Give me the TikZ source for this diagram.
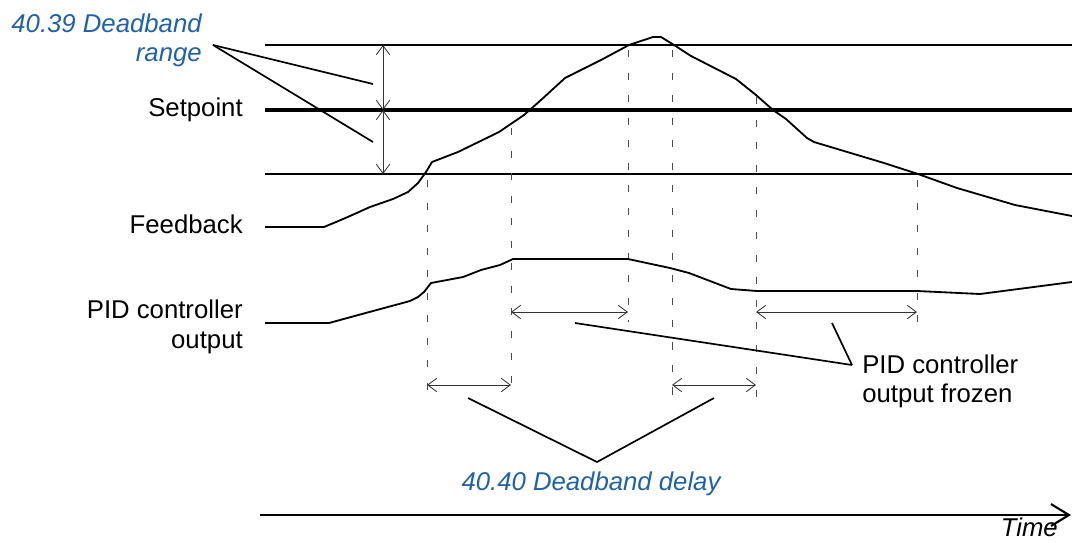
\documentclass[tikz,border=0pt]{standalone}
\usepackage{fontspec}
\setmainfont{Liberation Sans}
\usepackage{xcolor}
\usepackage{tikz}
\usetikzlibrary{arrows.meta,positioning,calc}

\definecolor{parblue}{RGB}{31,98,170}

\begin{document}
\begin{tikzpicture}[x=0.025cm, y=-0.025cm,
    every node/.style={font=\fontsize{18.3}{21}\selectfont, inner sep=0pt},
    parlabel/.style={text=parblue, font=\fontsize{18.3}{21}\selectfont\itshape},
    level/.style={line width=1.4pt},
    setline/.style={line width=2.8pt},
    signal/.style={line width=1.3pt, line join=round},
    leader/.style={line width=1.2pt},
    marker/.style={black!70, line width=0.7pt, dash pattern=on 5pt off 11pt},
    span/.style={black!80, line width=0.6pt, {Straight Barb[length=6.4pt,width=9.5pt]}-{Straight Barb[length=6.4pt,width=9.5pt]}}]
    \useasboundingbox (0,0) rectangle (1072,542);

    % labels (base = last line)
    \node[parlabel, align=right, anchor=base east] (range) at (202,61.7) {40.39 Deadband\\range};
    \node[anchor=base east] (setp) at (243,116) {Setpoint};
    \node[anchor=base east] (fb) at (243,233) {Feedback};
    \node[align=right, anchor=base east] (pid) at (243,348) {PID controller\\output};
    \node[align=left, anchor=base west] (frozen) at (862,402.7) {PID controller\\output frozen};
    \node[parlabel, anchor=base] (delay) at (591,490) {40.40 Deadband delay};
    \node[font=\fontsize{18.3}{21}\selectfont\itshape, anchor=base east] (time) at (1058,536.5) {Time};

    % deadband levels
    \draw[level] (265,45) -- (1072,45);
    \draw[setline] (265,110) -- (1072,110);
    \draw[level] (265,174) -- (1072,174);

    \coordinate (dimtop) at (383,45);
    \coordinate (dimmid) at (383,110);
    \coordinate (dimbot) at (383,174);
    \draw[span] (dimtop) -- (dimmid);
    \draw[span] (dimmid) -- (dimbot);

    \coordinate (rangefoot) at (213,45);
    \draw[leader] (rangefoot) -- (373,84);
    \draw[leader] (rangefoot) -- (373,142);

    % event markers
    \foreach \x/\ya/\yb in {427/180/397, 511/128/397, 628/50/322, 672/50/397, 756/97/397, 917/180/322}
        \draw[marker] (\x,\ya) -- (\x,\yb);

    % feedback
    \draw[signal] (265,227) -- (324,227) -- (336,222) -- (350,216) -- (370,207) -- (393,199) -- (408,192)
        -- (418,183) -- (426,172) -- (432,162) -- (458,152) -- (499,132) -- (524,115)
        -- (541,100) -- (565,78) -- (601,60) -- (629,45) -- (653,37) -- (661,37)
        -- (674,45) -- (691,56) -- (736,79) -- (756,95) -- (773,110) -- (786,119)
        -- (807,138) -- (814,142) -- (884,163) -- (918,174) -- (957,188) -- (1015,205)
        -- (1072,216);

    % PID output
    \draw[signal] (265,323) -- (329,323) -- (351,317) -- (373,311) -- (410,301) -- (418,297)
        -- (424,292) -- (431,283) -- (463,277) -- (481,270) -- (500,265) -- (513,259)
        -- (628,259) -- (670,268) -- (689,273) -- (731,289) -- (757,291) -- (917,291)
        -- (980,294) -- (1072,282);

    % frozen spans
    \draw[span] (511,312) -- (628,312);
    \draw[span] (756,312) -- (917,312);
    \coordinate (frozenfoot) at (852,365);
    \draw[leader] (575,323) -- (frozenfoot);
    \draw[leader] (832,323) -- (frozenfoot);

    % delay spans
    \draw[span] (427,385) -- (511,385);
    \draw[span] (672,385) -- (756,385);
    \coordinate (delayfoot) at (597,462);
    \draw[leader] (468,398) -- (delayfoot) -- (714,398);

    % time axis
    \coordinate (tstart) at (260,515);
    \coordinate (tend) at (1071,515);
    \draw[line width=1.5pt, -{Straight Barb[length=12.8pt,width=15.6pt]}] (tstart) -- (tend);
\end{tikzpicture}
\end{document}
